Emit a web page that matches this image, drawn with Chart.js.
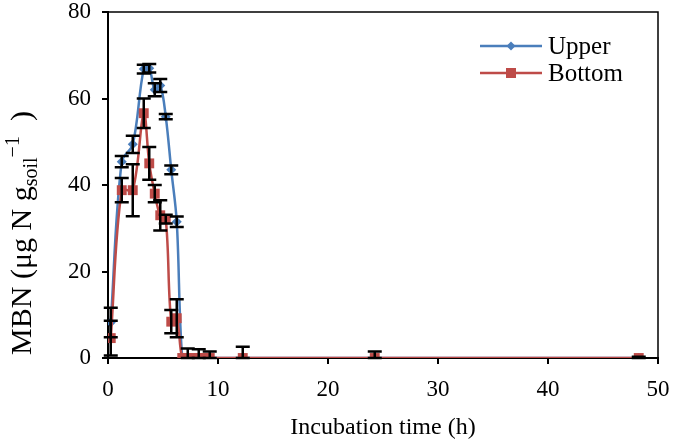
<!DOCTYPE html>
<html>
<head>
<meta charset="utf-8">
<script src="https://cdn.jsdelivr.net/npm/chart.js@4.4.0/dist/chart.umd.min.js"></script>
<style>
  html, body { margin: 0; padding: 0; background: #fff; }
  #wrap { width: 675px; height: 443px; }
</style>
</head>
<body>
<div id="wrap"><canvas id="mbnChart" width="675" height="443"></canvas></div>
<script>
// incubation times (h)
var times = [0.25, 1.25, 2.25, 3.25, 3.75, 4.25, 4.75, 5.25, 5.75, 6.25, 6.75, 7.25, 7.75, 8.25, 8.75, 9.25, 12.25, 24.25, 48.25];

// MBN, upper layer
var upperValues = [8.2, 45.4, 49.4, 66.8, 67.0, 62.0, 63.0, 55.8, 43.5, 31.5, 0, 0, 0, 0, 0, 0, 0, 0, 0];
var upperErrors = [3.4, 1.3, 2.0, 1.0, 1.0, 1.5, 1.5, 0.6, 1.0, 1.2, 0, 0, 0, 0, 0, 0, 0, 0, 0];

// MBN, bottom layer
var bottomValues = [4.6, 38.8, 38.8, 56.6, 45.0, 38.0, 33.0, 32.1, 8.4, 9.2, 0, 0, 0, 0, 0, 0, 0, 0, 0];
var bottomErrors = [4.0, 2.8, 6.0, 3.4, 3.8, 2.0, 3.5, 1.0, 2.7, 4.4, 0, 2.2, 0, 2.0, 0, 1.5, 2.6, 1.5, 0.3];

var seriesNames = ["Upper", "Bottom"];
var xTicks = [0, 10, 20, 30, 40, 50];
var yTicks = [0, 20, 40, 60, 80];

var blue = "#4A7EBB";
var red = "#BE4B48";
var serif = "'Liberation Serif', 'Times New Roman', serif";

function toPoints(vals) {
	return times.map(function(t, i) { return { x: t, y: vals[i] }; });
}

// error bars, frame, legend and y title
var extras = {
	id: "extras",
	afterDatasetsDraw: function(chart) {
		var ctx = chart.ctx, xs = chart.scales.x, ys = chart.scales.y;
		ctx.save();
		ctx.strokeStyle = "#000";
		ctx.lineWidth = 2.5;
		[[upperValues, upperErrors], [bottomValues, bottomErrors]].forEach(function(s) {
			for (var i = 0; i < times.length; i++) {
				var e = s[1][i];
				if (!e) continue;
				var px = xs.getPixelForValue(times[i]);
				var top = ys.getPixelForValue(s[0][i] + e);
				var bot = ys.getPixelForValue(Math.max(s[0][i] - e, 0));
				ctx.beginPath();
				ctx.moveTo(px, top); ctx.lineTo(px, bot);
				ctx.moveTo(px - 7, top); ctx.lineTo(px + 7, top);
				ctx.moveTo(px - 7, bot); ctx.lineTo(px + 7, bot);
				ctx.stroke();
			}
		});
		ctx.restore();
	},
	afterDraw: function(chart) {
		var ctx = chart.ctx, a = chart.chartArea;
		ctx.save();
		// top and right frame
		ctx.strokeStyle = "#000";
		ctx.lineWidth = 1.5;
		ctx.beginPath();
		ctx.moveTo(a.left, a.top); ctx.lineTo(a.right, a.top); ctx.lineTo(a.right, a.bottom);
		ctx.stroke();

		// legend
		var rows = [[seriesNames[0], blue, 46, "diamond"], [seriesNames[1], red, 73, "square"]];
		rows.forEach(function(r) {
			ctx.strokeStyle = r[1];
			ctx.fillStyle = r[1];
			ctx.lineWidth = 2.5;
			ctx.beginPath();
			ctx.moveTo(480, r[2]); ctx.lineTo(542, r[2]);
			ctx.stroke();
			if (r[3] === "diamond") {
				ctx.beginPath();
				ctx.moveTo(511, r[2] - 4.5); ctx.lineTo(515.5, r[2]); ctx.lineTo(511, r[2] + 4.5); ctx.lineTo(506.5, r[2]);
				ctx.closePath(); ctx.fill();
			} else {
				ctx.fillRect(506, r[2] - 5, 10, 10);
			}
			ctx.fillStyle = "#000";
			ctx.font = "25px " + serif;
			ctx.textBaseline = "middle";
			ctx.textAlign = "left";
			ctx.fillText(r[0], 548, r[2] + 1);
		});

		// y title with subscript / superscript
		var parts = [
			{ t: "MBN (\u03BCg N g", s: 30, dy: 0 },
			{ t: "soil", s: 20, dy: 6 },
			{ t: "\u22121", s: 20, dy: -12 },
			{ t: "  )", s: 30, dy: 0 }
		];
		var total = 0;
		parts.forEach(function(p) {
			ctx.font = p.s + "px " + serif;
			p.w = ctx.measureText(p.t).width;
			total += p.w;
		});
		ctx.translate(31, 233);
		ctx.rotate(-Math.PI / 2);
		ctx.fillStyle = "#000";
		ctx.textAlign = "left";
		ctx.textBaseline = "alphabetic";
		var cx = -total / 2;
		parts.forEach(function(p) {
			ctx.font = p.s + "px " + serif;
			ctx.fillText(p.t, cx, p.dy);
			cx += p.w;
		});
		ctx.restore();
	}
};

new Chart("mbnChart", {
	type: "line",
	data: {
		datasets: [{
			label: seriesNames[0],
			data: toPoints(upperValues),
			borderColor: blue,
			backgroundColor: blue,
			borderWidth: 2.5,
			pointStyle: "rectRot",
			pointRadius: 5,
			pointBorderWidth: 0,
			tension: 0.35,
			order: 2
		}, {
			label: seriesNames[1],
			data: toPoints(bottomValues),
			borderColor: red,
			backgroundColor: red,
			borderWidth: 2.5,
			pointStyle: "rect",
			pointRadius: 7,
			pointBorderWidth: 0,
			tension: 0.35,
			order: 1
		}]
	},
	options: {
		responsive: false,
		animation: false,
		layout: { padding: { top: 12, right: 17, left: 0, bottom: 0 } },
		plugins: {
			legend: { display: false },
			tooltip: { enabled: false }
		},
		scales: {
			x: {
				type: "linear",
				min: 0, max: 50,
				afterBuildTicks: function(s) { s.ticks = xTicks.map(function(v) { return { value: v }; }); },
				afterFit: function(s) { s.height = 85; },
				grid: { display: true, drawOnChartArea: false, drawTicks: true, tickLength: 6, color: "#000", lineWidth: 2 },
				border: { display: true, color: "#000", width: 2 },
				// small padding keeps the right edge at 658; the tall line pushes labels down
				ticks: { color: "#000", padding: 3, maxRotation: 0, font: { family: serif, size: 23, lineHeight: 1.96 } },
				title: { display: true, text: "Incubation time (h)", color: "#000", padding: { top: 10, bottom: 1 }, font: { family: serif, size: 24 } }
			},
			y: {
				min: 0, max: 80,
				afterBuildTicks: function(s) { s.ticks = yTicks.map(function(v) { return { value: v }; }); },
				afterFit: function(s) { s.width = 108; },
				grid: { display: true, drawOnChartArea: false, drawTicks: true, tickLength: 6, color: "#000", lineWidth: 2 },
				border: { display: true, color: "#000", width: 2 },
				// tiny line height so the label does not add top padding
				ticks: { color: "#000", padding: 11, font: { family: serif, size: 23, lineHeight: 0.04 } }
			}
		}
	},
	plugins: [extras]
});
</script>
</body>
</html>
